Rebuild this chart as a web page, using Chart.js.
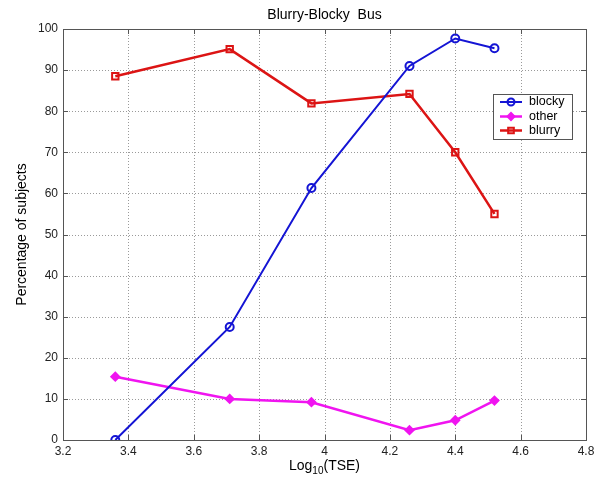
<!DOCTYPE html>
<html>
<head>
<meta charset="utf-8">
<script src="https://cdn.jsdelivr.net/npm/chart.js@4/dist/chart.umd.min.js"></script>
<style>
  html, body { margin: 0; padding: 0; background: #fff; }
  #wrap { width: 602px; height: 478px; position: relative; }
</style>
</head>
<body>
<div id="wrap"><canvas id="c"></canvas></div>
<script>
// log10(TSE) sample positions
const logTSE = [3.36, 3.71, 3.96, 4.26, 4.40, 4.52];
// percentage of subjects choosing each response
const blocky = [0, 27.5, 61.3, 91.0, 97.7, 95.3];
const other  = [15.4, 10.0, 9.2, 2.4, 4.8, 9.6];
const blurry = [88.5, 95.1, 81.9, 84.2, 70.0, 55.0];

const xTicks = [3.2, 3.4, 3.6, 3.8, 4, 4.2, 4.4, 4.6, 4.8];
const yTicks = [0, 10, 20, 30, 40, 50, 60, 70, 80, 90, 100];

const titleText = 'Blurry-Blocky  Bus';
const yTitle = 'Percentage of subjects';

const FONT = 'Arial, "Liberation Sans", sans-serif';

function pts(ys) { return logTSE.map((x, i) => ({ x: x, y: ys[i] })); }

// dotted grid behind the data
const dottedGrid = {
  id: 'dottedGrid',
  beforeDatasetsDraw(chart) {
    const ctx = chart.ctx;
    const a = chart.chartArea;
    const xs = chart.scales.x, ys = chart.scales.y;
    ctx.save();
    ctx.strokeStyle = '#9a9a9a';
    ctx.lineWidth = 1;
    ctx.setLineDash([1, 2]);
    ctx.beginPath();
    xTicks.forEach(v => {
      const px = Math.round(xs.getPixelForValue(v)) + 0.5;
      ctx.moveTo(px, a.top); ctx.lineTo(px, a.bottom);
    });
    yTicks.forEach(v => {
      const py = Math.round(ys.getPixelForValue(v)) + 0.5;
      ctx.moveTo(a.left, py); ctx.lineTo(a.right, py);
    });
    ctx.stroke();
    ctx.restore();
  }
};

// frame, inward ticks, titles and the boxed legend
const decor = {
  id: 'decor',
  afterDraw(chart) {
    const ctx = chart.ctx;
    const a = chart.chartArea;
    const xs = chart.scales.x, ys = chart.scales.y;
    ctx.save();
    ctx.strokeStyle = '#555';
    ctx.lineWidth = 1;
    ctx.strokeRect(Math.round(a.left) + 0.5, Math.round(a.top) + 0.5,
                   Math.round(a.right - a.left), Math.round(a.bottom - a.top));
    ctx.beginPath();
    xTicks.forEach(v => {
      const px = Math.round(xs.getPixelForValue(v)) + 0.5;
      ctx.moveTo(px, a.bottom); ctx.lineTo(px, a.bottom - 5);
      ctx.moveTo(px, a.top); ctx.lineTo(px, a.top + 5);
    });
    yTicks.forEach(v => {
      const py = Math.round(ys.getPixelForValue(v)) + 0.5;
      ctx.moveTo(a.left, py); ctx.lineTo(a.left + 5, py);
      ctx.moveTo(a.right, py); ctx.lineTo(a.right - 5, py);
    });
    ctx.stroke();

    // title
    ctx.fillStyle = '#000';
    ctx.font = '14px ' + FONT;
    ctx.textAlign = 'center';
    ctx.textBaseline = 'middle';
    ctx.fillText(titleText, (a.left + a.right) / 2, 15);

    // y title
    ctx.save();
    ctx.translate(22, (a.top + a.bottom) / 2);
    ctx.rotate(-Math.PI / 2);
    ctx.fillText(yTitle, 0, 0);
    ctx.restore();

    // x title with subscript
    ctx.textAlign = 'left';
    ctx.textBaseline = 'alphabetic';
    const main1 = 'Log', sub = '10', main2 = '(TSE)';
    ctx.font = '14px ' + FONT;
    const w1 = ctx.measureText(main1).width, w3 = ctx.measureText(main2).width;
    ctx.font = '10px ' + FONT;
    const w2 = ctx.measureText(sub).width;
    const x0 = (a.left + a.right) / 2 - (w1 + w2 + w3) / 2;
    const base = 470;
    ctx.font = '14px ' + FONT;
    ctx.fillText(main1, x0, base);
    ctx.font = '10px ' + FONT;
    ctx.fillText(sub, x0 + w1, base + 4);
    ctx.font = '14px ' + FONT;
    ctx.fillText(main2, x0 + w1 + w2, base);

    // legend box
    const lx = 493, ly = 94, lw = 79, lh = 45;
    ctx.fillStyle = '#fff';
    ctx.fillRect(lx, ly, lw, lh);
    ctx.strokeStyle = '#555';
    ctx.lineWidth = 1;
    ctx.strokeRect(lx + 0.5, ly + 0.5, lw, lh);
    const rows = [102, 116.5, 130.5];
    chart.data.datasets.forEach((ds, i) => {
      const y = rows[i];
      ctx.strokeStyle = ds.borderColor;
      ctx.lineWidth = ds.borderWidth;
      ctx.beginPath();
      ctx.moveTo(500, y); ctx.lineTo(522, y);
      ctx.stroke();
      ctx.fillStyle = ds.pointBackgroundColor;
      ctx.strokeStyle = ds.borderColor;
      ctx.lineWidth = ds.pointBorderWidth;
      Chart.helpers.drawPoint(ctx, {
        pointStyle: ds.pointStyle, radius: ds.pointRadius - 0.5,
        borderWidth: ds.pointBorderWidth, rotation: 0
      }, 511, y);
      ctx.fillStyle = '#000';
      ctx.font = '12.5px ' + FONT;
      ctx.textBaseline = 'middle';
      ctx.textAlign = 'left';
      ctx.fillText(ds.label, 529, y);
    });
    ctx.restore();
  }
};

new Chart(document.getElementById('c'), {
  type: 'line',
  data: {
    datasets: [
      {
        label: 'blocky', data: pts(blocky),
        borderColor: '#1414d4', backgroundColor: '#1414d4',
        borderWidth: 2, pointStyle: 'circle', pointRadius: 4,
        pointBorderWidth: 2, pointBackgroundColor: 'rgba(255,255,255,0)'
      },
      {
        label: 'other', data: pts(other),
        borderColor: '#f014f0', backgroundColor: '#f014f0',
        borderWidth: 2.5, pointStyle: 'rectRot', pointRadius: 4,
        pointBorderWidth: 2, pointBackgroundColor: '#f014f0'
      },
      {
        label: 'blurry', data: pts(blurry),
        borderColor: '#dc1414', backgroundColor: '#dc1414',
        borderWidth: 2.5, pointStyle: 'rect', pointRadius: 4.5,
        pointBorderWidth: 2, pointBackgroundColor: 'rgba(255,255,255,0)'
      }
    ]
  },
  options: {
    responsive: true,
    maintainAspectRatio: false,
    animation: false,
    layout: { padding: { left: 0, right: 16, top: 29, bottom: 0 } },
    plugins: { legend: { display: false }, title: { display: false }, tooltip: { enabled: false } },
    scales: {
      x: {
        type: 'linear', min: 3.2, max: 4.8,
        afterBuildTicks: s => { s.ticks = xTicks.map(v => ({ value: v })); },
        afterFit: s => { s.height = 38; },
        ticks: {
          color: '#222', font: { family: FONT, size: 12 }, padding: 4,
          maxRotation: 0, autoSkip: false,
          callback: v => String(Math.round(v * 10) / 10)
        },
        grid: { display: false, drawTicks: false, tickLength: 0 },
        border: { display: false }
      },
      y: {
        type: 'linear', min: 0, max: 100,
        afterBuildTicks: s => { s.ticks = yTicks.map(v => ({ value: v })); },
        afterFit: s => { s.width = 63; },
        ticks: {
          color: '#222', font: { family: FONT, size: 12 }, padding: 5,
          autoSkip: false
        },
        grid: { display: false, drawTicks: false, tickLength: 0 },
        border: { display: false }
      }
    }
  },
  plugins: [dottedGrid, decor]
});
</script>
</body>
</html>
